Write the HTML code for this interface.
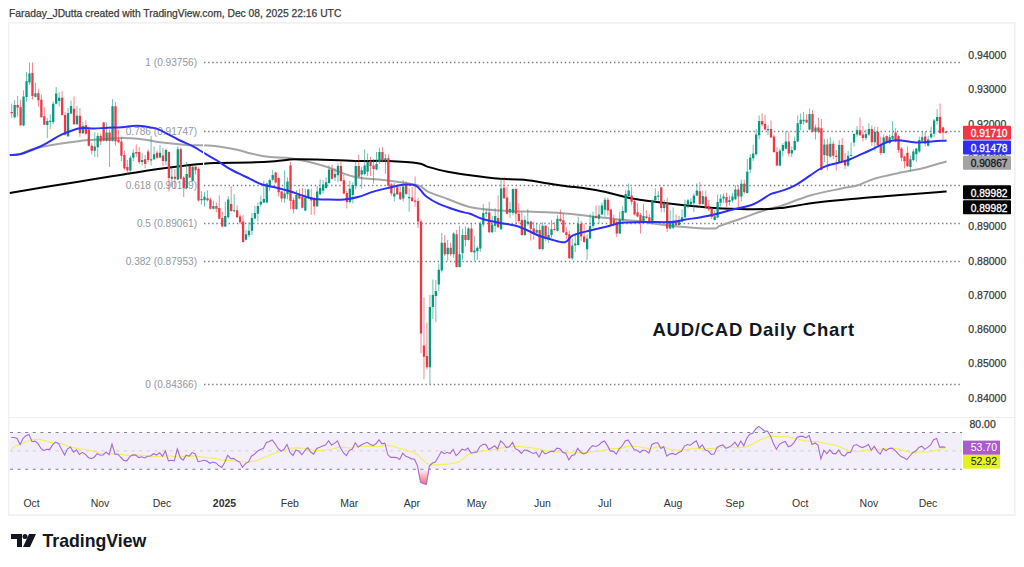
<!DOCTYPE html>
<html><head><meta charset="utf-8"><style>
html,body{margin:0;padding:0;background:#fff;}
body{width:1024px;height:567px;position:relative;overflow:hidden;font-family:"Liberation Sans",sans-serif;}
svg text{font-family:"Liberation Sans",sans-serif;}
.title{position:absolute;left:9px;top:8px;font-size:10.3px;color:#3B3B3B;-webkit-text-stroke:0.25px #3B3B3B;white-space:nowrap;}
</style></head><body>
<div class="title">Faraday_JDutta created with TradingView.com, Dec 08, 2025 22:16 UTC</div>
<svg width="1024" height="567" viewBox="0 0 1024 567" style="position:absolute;left:0;top:0"><rect x="8.8" y="22.9" width="1006" height="492.2" fill="none" stroke="#F0F0F0" stroke-width="1.6"/><line x1="9" y1="417.5" x2="1015" y2="417.5" stroke="#EEEEEE" stroke-width="1.2"/><line x1="204" y1="62.5" x2="962" y2="62.5" stroke="#787B86" stroke-width="1.3" stroke-dasharray="1.4 2.7"/><line x1="204" y1="131.5" x2="962" y2="131.5" stroke="#787B86" stroke-width="1.3" stroke-dasharray="1.4 2.7"/><line x1="204" y1="185.5" x2="962" y2="185.5" stroke="#787B86" stroke-width="1.3" stroke-dasharray="1.4 2.7"/><line x1="204" y1="223.5" x2="962" y2="223.5" stroke="#787B86" stroke-width="1.3" stroke-dasharray="1.4 2.7"/><line x1="204" y1="261.5" x2="962" y2="261.5" stroke="#787B86" stroke-width="1.3" stroke-dasharray="1.4 2.7"/><line x1="204" y1="384.5" x2="962" y2="384.5" stroke="#787B86" stroke-width="1.3" stroke-dasharray="1.4 2.7"/><text x="197" y="66.1" text-anchor="end" font-size="10.1" fill="#9598A1">1 (0.93756)</text><text x="197" y="135.0" text-anchor="end" font-size="10.1" fill="#9598A1">0.786 (0.91747)</text><text x="197" y="189.0" text-anchor="end" font-size="10.1" fill="#9598A1">0.618 (0.90169)</text><text x="197" y="227.0" text-anchor="end" font-size="10.1" fill="#9598A1">0.5 (0.89061)</text><text x="197" y="265.0" text-anchor="end" font-size="10.1" fill="#9598A1">0.382 (0.87953)</text><text x="197" y="387.9" text-anchor="end" font-size="10.1" fill="#9598A1">0 (0.84366)</text><path d="M9.8 155.0C11.5 154.8 16.1 155.0 20.0 154.0C23.9 153.0 26.7 150.7 33.0 149.0C39.3 147.3 50.2 145.2 58.0 143.9C65.8 142.6 72.8 141.7 80.0 140.9C87.2 140.2 94.0 139.9 101.0 139.4C108.0 138.9 114.9 138.0 122.0 138.0C129.1 138.0 137.2 138.7 143.5 139.4C149.8 140.1 152.9 141.4 160.0 142.3C167.1 143.2 176.9 144.3 186.0 144.9C195.1 145.5 205.7 145.1 214.4 145.9C223.1 146.7 232.1 148.7 238.0 149.9C243.9 151.1 244.7 152.1 250.0 153.3C255.3 154.5 263.0 156.1 270.0 157.0C277.0 157.9 283.0 157.0 292.0 158.5C301.0 160.0 313.7 163.0 324.0 166.0C334.3 169.0 343.3 174.3 354.0 176.7C364.7 179.1 377.3 179.1 388.0 180.5C398.7 181.9 411.3 183.6 418.0 185.4C424.7 187.2 423.1 189.3 428.0 191.6C432.9 193.9 440.3 196.3 447.6 199.0C454.9 201.7 463.3 205.7 472.0 207.6C480.7 209.5 485.3 209.6 500.0 210.5C514.7 211.4 543.8 211.9 560.0 213.0C576.2 214.1 584.7 215.8 597.0 217.1C609.3 218.4 621.7 219.4 634.0 220.8C646.3 222.2 658.0 224.4 671.0 225.7C684.0 227.0 703.8 228.6 712.0 228.6C720.2 228.6 715.3 227.3 720.0 225.7C724.7 224.1 732.0 221.8 740.0 219.0C748.0 216.2 761.0 211.3 767.7 209.2C774.4 207.1 772.8 208.6 780.0 206.3C787.2 204.0 800.6 198.3 811.0 195.3C821.4 192.3 834.7 190.0 842.5 188.3C850.3 186.6 852.8 186.8 858.0 185.2C863.2 183.6 867.2 180.9 873.8 178.9C880.2 176.9 889.2 175.1 897.0 173.4C904.8 171.7 913.4 170.4 920.6 168.8C927.8 167.1 935.7 164.5 940.0 163.3C944.3 162.1 945.5 161.8 946.6 161.5" fill="none" stroke="#A5A5A5" stroke-width="2" stroke-linejoin="round"/><path d="M9.8 192.9C15.7 191.9 33.3 188.9 45.0 187.0C56.7 185.1 68.3 183.4 80.0 181.5C91.7 179.6 102.0 177.9 115.0 175.8C128.0 173.7 146.2 170.6 158.0 168.9C169.8 167.2 176.6 166.4 186.0 165.4C195.4 164.4 203.7 163.4 214.4 162.9C225.1 162.4 239.9 162.8 250.0 162.5C260.1 162.2 267.6 161.7 275.0 161.2C282.4 160.7 287.5 159.6 294.5 159.3C301.5 159.0 306.9 159.2 317.0 159.5C327.1 159.8 343.2 160.7 355.0 160.9C366.8 161.2 377.5 160.6 388.0 161.0C398.5 161.4 411.3 162.2 418.0 163.2C424.7 164.2 423.1 165.5 428.0 166.9C432.9 168.3 440.3 170.4 447.6 171.8C454.9 173.2 463.3 174.4 472.0 175.6C480.7 176.8 491.3 178.1 500.0 178.8C508.7 179.5 513.8 178.7 524.0 179.8C534.2 180.9 548.8 183.7 561.0 185.4C573.2 187.1 584.8 188.0 597.0 190.2C609.2 192.4 621.7 196.6 634.0 198.8C646.3 201.1 658.8 202.3 671.0 203.7C683.2 205.1 696.0 206.5 707.5 207.4C719.0 208.3 730.0 208.7 740.0 209.0C750.0 209.3 761.0 209.2 767.7 209.0C774.4 208.8 771.5 209.2 780.0 208.1C788.5 207.0 806.0 203.9 819.0 202.3C832.0 200.7 845.0 199.6 858.0 198.4C871.0 197.2 883.3 196.4 897.0 195.3C910.7 194.2 931.7 192.5 940.0 191.9C948.3 191.3 945.5 191.6 946.6 191.5" fill="none" stroke="#000" stroke-width="2" stroke-linejoin="round"/><path d="M14.67 100.2V118.6M23.56 90.3V126.3M26.53 72.0V101.6M29.50 62.5V84.7M35.43 82.6V97.4M47.29 117.8V138.3M50.26 114.3V129.1M53.22 101.6V124.2M56.19 87.1V104.4M59.16 92.2V106.6M68.05 108.0V136.9M71.02 100.6V114.3M76.95 105.9V124.9M82.88 122.1V134.1M94.75 132.4V157.1M97.71 133.1V157.1M106.61 122.5V141.6M112.54 99.2V141.6M130.34 155.7V171.9M133.31 149.3V161.3M142.20 152.8V165.5M151.10 135.9V165.5M154.07 146.5V159.9M160.00 144.9V158.3M165.93 148.5V165.4M171.86 167.5V186.6M177.80 146.3V180.2M186.69 161.9V189.4M192.63 166.1V181.6M201.52 191.2V204.6M204.49 191.9V206.7M213.39 201.0V209.5M225.25 201.7V227.1M228.22 196.1V218.7M234.15 194.0V212.3M246.01 230.0V240.5M248.98 222.2V237.0M251.95 213.0V234.9M254.91 206.0V219.4M257.88 202.5V221.5M260.84 195.4V206.7M263.81 180.6V203.2M266.78 182.7V203.2M269.74 178.5V191.2M272.71 170.0V181.3M284.57 170.3V202.8M287.54 177.4V199.3M296.44 190.1V209.8M305.33 188.7V211.3M308.30 188.7V199.3M317.20 185.9V207.0M320.16 179.5V195.0M323.13 180.2V193.6M326.10 177.4V188.7M329.06 165.4V183.7M334.99 168.2V180.9M337.96 163.3V182.3M349.82 180.9V203.5M352.79 182.3V203.5M355.76 160.5V189.4M361.69 166.8V188.7M364.65 149.2V175.3M367.62 153.4V176.0M376.52 152.0V170.3M379.48 147.8V164.0M385.42 154.1V173.9M394.31 183.0V201.4M403.21 180.2V201.4M409.14 188.4V211.7M429.91 295.0V384.2M432.87 279.6V319.0M435.84 280.0V322.0M438.80 263.4V291.0M441.77 232.8V272.6M447.70 239.9V260.6M453.63 232.1V257.8M459.57 225.8V267.5M462.53 228.6V260.0M468.46 227.2V240.6M474.40 235.7V260.6M477.36 246.3V259.9M480.33 221.6V251.9M483.29 204.0V227.2M486.26 208.9V217.3M492.19 215.9V232.8M495.16 208.2V232.1M501.09 178.5V230.0M509.99 201.8V218.0M512.95 188.4V215.2M524.82 215.9V235.7M527.78 208.9V225.8M536.68 223.0V234.3M542.61 222.3V250.5M548.55 227.2V242.7M551.51 220.1V237.8M557.44 215.2V231.4M572.27 238.6V260.0M575.24 232.9V252.0M578.21 216.7V245.6M587.10 234.3V260.0M590.07 213.9V239.3M593.04 211.7V228.0M598.97 205.4V223.7M601.93 202.6V215.3M604.90 197.6V216.7M619.73 211.7V234.3M622.70 206.1V221.6M625.66 189.9V213.2M628.63 183.5V196.9M643.46 203.9V222.2M652.36 199.6V224.3M655.32 188.3V203.2M658.29 191.2V200.3M664.22 199.6V212.3M670.15 210.2V229.3M673.12 207.4V229.3M679.05 215.9V225.7M682.02 209.5V222.2M684.98 199.6V218.0M687.95 198.9V208.1M690.91 198.2V205.3M693.88 193.3V212.3M696.85 183.4V196.1M702.78 190.5V204.6M714.64 210.5V220.4M717.61 194.3V218.3M720.57 194.3V206.3M723.54 193.6V202.8M729.47 195.7V205.6M732.44 192.9V202.8M735.40 185.1V200.0M741.34 179.5V201.4M747.27 159.0V193.6M750.23 154.1V173.2M753.20 144.9V161.2M756.17 128.9V155.7M759.13 115.5V139.4M768.03 125.3V135.2M779.89 148.6V166.3M782.86 143.0V156.4M785.83 131.0V149.4M791.76 146.6V157.1M794.72 136.7V150.8M797.69 115.5V142.3M800.66 113.4V130.3M803.62 112.0V124.7M809.55 108.5V130.3M815.49 124.7V139.5M824.38 138.8V162.1M830.32 137.4V157.8M839.21 140.2V162.8M848.11 150.8V167.0M851.08 142.3V156.4M854.04 133.2V146.6M857.01 126.1V136.7M865.91 129.6V140.2M868.87 123.3V136.0M874.81 126.8V150.8M883.70 134.6V153.6M889.64 134.5V144.4M892.60 121.1V139.4M910.40 155.7V171.2M913.36 149.3V161.3M916.33 147.9V162.0M919.30 136.6V152.8M922.26 131.0V142.3M928.19 135.9V146.5M931.16 126.7V138.7M934.13 119.0V137.3M937.09 109.1V124.6" stroke="#089981" stroke-width="1" fill="none" opacity="0.6"/><path d="M11.70 103.7V117.8M17.63 96.0V116.4M20.60 99.5V125.6M32.46 62.5V99.5M38.39 88.9V106.6M41.36 94.6V117.8M44.33 107.3V124.9M62.12 91.3V115.7M65.09 112.2V135.5M73.99 96.4V124.9M79.92 108.0V136.9M85.85 120.4V134.5M88.82 127.5V146.5M91.78 143.0V154.3M100.68 133.8V145.1M103.65 121.8V141.6M109.58 129.6V167.0M115.51 102.1V145.8M118.48 129.6V143.0M121.44 136.6V161.3M124.41 150.7V169.8M127.37 159.9V174.0M136.27 144.4V157.1M139.24 147.2V164.1M145.17 155.0V168.4M148.14 149.3V162.0M157.03 150.7V159.2M162.97 147.8V166.1M168.90 151.3V191.5M174.83 168.9V188.7M180.76 147.8V179.5M183.73 176.0V197.1M189.66 165.4V178.1M195.59 165.4V174.6M198.56 167.5V201.4M207.46 190.5V201.7M210.42 197.5V209.5M216.35 202.5V212.3M219.32 195.4V219.4M222.29 211.6V227.1M231.18 186.2V211.6M237.12 205.3V218.0M240.08 214.4V224.3M243.05 215.1V242.7M275.67 171.7V183.7M278.64 177.4V196.4M281.61 190.8V202.1M290.50 161.9V209.1M293.47 197.8V213.4M299.40 188.7V199.3M302.37 188.0V208.4M311.27 188.7V214.8M314.23 197.1V214.8M332.03 164.7V179.5M340.93 161.9V181.6M343.89 174.6V194.3M346.86 190.8V208.4M358.72 154.8V177.4M370.59 156.9V176.0M373.55 159.0V183.7M382.45 147.1V162.6M388.38 154.1V186.6M391.35 183.0V195.7M397.28 185.1V195.0M400.25 186.6V200.0M406.18 181.3V194.8M412.11 187.0V201.8M415.08 176.4V206.7M418.04 197.6V227.9M421.01 219.4V353.2M423.97 297.3V379.3M426.94 322.8V369.4M444.74 235.0V256.0M450.67 242.7V256.3M456.60 230.0V267.5M465.50 226.5V246.3M471.43 223.0V252.6M489.23 201.8V232.8M498.12 195.5V227.9M504.06 177.1V199.0M507.02 187.0V214.5M515.92 187.7V223.7M518.89 203.2V223.7M521.85 211.7V235.7M530.75 220.9V240.6M533.72 221.6V239.9M539.65 224.4V249.8M545.58 225.1V241.3M554.48 222.3V230.7M560.41 209.6V222.3M563.38 213.2V232.9M566.34 227.3V239.3M569.31 230.8V259.0M581.17 220.9V240.7M584.14 223.7V242.8M596.00 205.4V218.8M607.87 197.6V215.3M610.83 208.9V225.9M613.80 214.6V226.6M616.76 220.2V237.1M631.59 187.1V204.7M634.56 199.8V215.3M637.53 203.2V217.3M640.49 213.0V233.5M646.42 210.2V218.7M649.39 214.4V224.3M661.25 186.9V212.3M667.19 197.5V232.1M676.08 214.4V225.7M699.81 182.0V207.4M705.74 190.5V208.1M708.71 200.3V210.9M711.68 207.7V219.0M726.51 192.9V207.0M738.37 185.9V207.7M744.30 179.5V193.6M762.10 113.3V126.7M765.06 114.8V130.3M771.00 120.4V138.0M773.96 134.5V152.8M776.93 147.2V166.3M788.79 131.7V156.4M806.59 114.1V123.3M812.52 109.9V132.5M818.45 117.6V133.2M821.42 119.0V170.5M827.35 138.8V170.5M833.28 140.9V159.3M836.25 150.1V170.5M842.18 138.1V162.1M845.15 152.9V169.1M859.98 117.6V136.0M862.94 126.1V141.6M871.84 125.4V145.9M877.77 126.8V146.6M880.74 136.7V155.0M886.67 135.2V143.7M895.57 128.2V142.3M898.53 135.2V152.8M901.50 147.2V161.3M904.47 155.7V168.4M907.43 146.5V167.0M925.23 131.7V146.5M940.06 103.5V133.8M943.02 126.7V139.4M945.99 131.0V133.4" stroke="#F23645" stroke-width="1" fill="none" opacity="0.6"/><path d="M13.52 104.9h2.3v12.3h-2.3zM22.41 96.4h2.3v29.2h-2.3zM25.38 81.2h2.3v15.8h-2.3zM28.35 73.4h2.3v9.2h-2.3zM34.28 93.2h2.3v3.5h-2.3zM46.14 121.0h2.3v4.0h-2.3zM49.11 120.7h2.3v1.4h-2.3zM52.07 103.7h2.3v18.3h-2.3zM55.04 93.6h2.3v10.2h-2.3zM58.01 97.8h2.3v3.1h-2.3zM66.90 112.9h2.3v23.3h-2.3zM69.87 105.9h2.3v7.5h-2.3zM75.80 115.7h2.3v8.5h-2.3zM81.73 126.0h2.3v7.3h-2.3zM93.60 146.5h2.3v4.2h-2.3zM96.56 135.9h2.3v11.3h-2.3zM105.46 132.4h2.3v8.5h-2.3zM111.39 106.3h2.3v34.6h-2.3zM129.19 157.8h2.3v12.7h-2.3zM132.16 152.8h2.3v4.9h-2.3zM141.05 159.9h2.3v2.1h-2.3zM149.95 159.2h2.3v1.4h-2.3zM152.92 154.3h2.3v4.9h-2.3zM158.85 152.7h2.3v4.9h-2.3zM164.78 149.9h2.3v11.3h-2.3zM170.71 176.7h2.3v2.1h-2.3zM176.65 149.2h2.3v30.3h-2.3zM185.54 173.9h2.3v14.1h-2.3zM191.48 166.8h2.3v14.1h-2.3zM200.37 198.9h2.3v1.4h-2.3zM203.34 196.8h2.3v3.5h-2.3zM212.24 206.0h2.3v2.8h-2.3zM224.10 215.9h2.3v10.6h-2.3zM227.07 199.6h2.3v17.6h-2.3zM233.00 210.2h2.3v1.0h-2.3zM244.86 234.2h2.3v5.6h-2.3zM247.83 230.7h2.3v4.2h-2.3zM250.80 218.0h2.3v12.7h-2.3zM253.76 213.0h2.3v5.6h-2.3zM256.73 206.0h2.3v7.8h-2.3zM259.69 201.7h2.3v2.8h-2.3zM262.66 198.9h2.3v3.5h-2.3zM265.63 183.4h2.3v19.0h-2.3zM268.59 179.9h2.3v5.6h-2.3zM271.56 174.9h2.3v4.9h-2.3zM283.42 193.6h2.3v4.9h-2.3zM286.39 181.6h2.3v12.7h-2.3zM295.29 195.0h2.3v14.1h-2.3zM304.18 197.8h2.3v12.7h-2.3zM307.15 189.4h2.3v8.5h-2.3zM316.05 191.5h2.3v14.8h-2.3zM319.01 188.0h2.3v6.3h-2.3zM321.98 184.4h2.3v6.3h-2.3zM324.95 182.3h2.3v5.6h-2.3zM327.91 169.6h2.3v13.4h-2.3zM333.84 173.9h2.3v3.5h-2.3zM336.81 166.1h2.3v9.2h-2.3zM348.67 188.7h2.3v13.4h-2.3zM351.64 185.1h2.3v9.9h-2.3zM354.61 166.1h2.3v19.8h-2.3zM360.54 170.3h2.3v4.2h-2.3zM363.50 165.4h2.3v8.5h-2.3zM366.47 161.9h2.3v9.9h-2.3zM375.37 164.0h2.3v5.6h-2.3zM378.33 152.0h2.3v9.2h-2.3zM384.27 158.3h2.3v2.1h-2.3zM393.16 193.6h2.3v2.8h-2.3zM402.06 186.6h2.3v12.0h-2.3zM407.99 196.9h2.3v1.4h-2.3zM428.76 307.0h2.3v60.3h-2.3zM431.72 295.0h2.3v12.0h-2.3zM434.69 291.0h2.3v5.0h-2.3zM437.65 269.8h2.3v14.8h-2.3zM440.62 242.7h2.3v27.8h-2.3zM446.55 247.7h2.3v6.5h-2.3zM452.48 233.6h2.3v20.6h-2.3zM458.42 254.2h2.3v12.8h-2.3zM461.38 235.0h2.3v18.3h-2.3zM467.31 228.6h2.3v11.4h-2.3zM473.25 250.5h2.3v2.0h-2.3zM476.21 247.7h2.3v3.5h-2.3zM479.18 223.7h2.3v24.7h-2.3zM482.14 213.0h2.3v11.4h-2.3zM485.11 212.4h2.3v1.4h-2.3zM491.04 224.4h2.3v7.8h-2.3zM494.01 215.9h2.3v9.9h-2.3zM499.94 188.4h2.3v40.9h-2.3zM508.84 208.9h2.3v3.5h-2.3zM511.80 189.1h2.3v24.0h-2.3zM523.67 220.1h2.3v14.8h-2.3zM526.63 221.6h2.3v2.1h-2.3zM535.53 230.0h2.3v2.8h-2.3zM541.46 225.8h2.3v23.3h-2.3zM547.40 235.0h2.3v4.2h-2.3zM550.36 229.3h2.3v5.6h-2.3zM556.29 218.7h2.3v12.0h-2.3zM571.12 245.6h2.3v12.7h-2.3zM574.09 243.5h2.3v2.1h-2.3zM577.06 223.7h2.3v21.2h-2.3zM585.95 238.6h2.3v10.6h-2.3zM588.92 225.9h2.3v12.7h-2.3zM591.89 216.0h2.3v9.9h-2.3zM597.82 214.6h2.3v4.2h-2.3zM600.78 205.4h2.3v9.2h-2.3zM603.75 199.8h2.3v9.9h-2.3zM618.58 219.5h2.3v14.1h-2.3zM621.55 211.0h2.3v9.2h-2.3zM624.51 194.1h2.3v18.3h-2.3zM627.48 190.6h2.3v5.6h-2.3zM642.31 215.9h2.3v5.6h-2.3zM651.21 200.3h2.3v23.3h-2.3zM654.17 196.1h2.3v4.2h-2.3zM657.14 195.4h2.3v1.4h-2.3zM663.07 203.2h2.3v4.9h-2.3zM669.00 222.9h2.3v5.6h-2.3zM671.97 221.5h2.3v6.3h-2.3zM677.90 220.1h2.3v4.9h-2.3zM680.87 217.3h2.3v4.2h-2.3zM683.83 204.6h2.3v12.7h-2.3zM686.80 200.3h2.3v4.2h-2.3zM689.76 201.7h2.3v2.8h-2.3zM692.73 195.4h2.3v7.8h-2.3zM695.70 190.5h2.3v4.9h-2.3zM701.63 196.1h2.3v7.8h-2.3zM713.49 216.2h2.3v3.8h-2.3zM716.46 202.1h2.3v15.5h-2.3zM719.42 198.6h2.3v4.2h-2.3zM722.39 196.4h2.3v2.1h-2.3zM728.32 200.0h2.3v2.1h-2.3zM731.29 196.4h2.3v4.2h-2.3zM734.25 189.4h2.3v9.9h-2.3zM740.19 183.7h2.3v12.7h-2.3zM746.12 171.7h2.3v21.2h-2.3zM749.08 157.6h2.3v12.0h-2.3zM752.05 153.4h2.3v4.9h-2.3zM755.02 134.5h2.3v19.8h-2.3zM757.98 121.1h2.3v14.1h-2.3zM766.88 128.9h2.3v1.4h-2.3zM778.74 150.7h2.3v14.8h-2.3zM781.71 145.1h2.3v5.6h-2.3zM784.68 141.6h2.3v7.1h-2.3zM790.61 150.1h2.3v3.5h-2.3zM793.57 140.9h2.3v9.2h-2.3zM796.54 123.3h2.3v18.3h-2.3zM799.51 119.8h2.3v4.2h-2.3zM802.47 119.8h2.3v1.4h-2.3zM808.40 114.1h2.3v15.5h-2.3zM814.34 127.5h2.3v4.2h-2.3zM823.23 144.4h2.3v10.6h-2.3zM829.17 143.7h2.3v12.7h-2.3zM838.06 145.1h2.3v16.9h-2.3zM846.96 155.7h2.3v9.9h-2.3zM849.93 155.0h2.3v1.0h-2.3zM852.89 133.9h2.3v8.5h-2.3zM855.86 130.3h2.3v4.2h-2.3zM864.76 133.9h2.3v4.2h-2.3zM867.72 128.9h2.3v5.6h-2.3zM873.66 131.7h2.3v10.6h-2.3zM882.55 137.4h2.3v15.5h-2.3zM888.49 137.3h2.3v5.6h-2.3zM891.45 135.9h2.3v2.8h-2.3zM909.25 159.2h2.3v7.8h-2.3zM912.21 151.4h2.3v8.5h-2.3zM915.18 148.6h2.3v5.6h-2.3zM918.15 140.1h2.3v11.3h-2.3zM921.11 137.3h2.3v3.5h-2.3zM927.04 139.4h2.3v6.3h-2.3zM930.01 133.8h2.3v3.5h-2.3zM932.98 120.4h2.3v13.4h-2.3zM935.94 116.9h2.3v4.2h-2.3z" fill="#089981" /><path d="M10.55 111.9h2.3v1.4h-2.3zM16.48 104.9h2.3v2.8h-2.3zM19.45 107.3h2.3v17.9h-2.3zM31.31 73.0h2.3v23.0h-2.3zM37.24 93.2h2.3v7.1h-2.3zM40.21 99.8h2.3v17.4h-2.3zM43.18 116.2h2.3v8.5h-2.3zM60.97 97.8h2.3v17.2h-2.3zM63.94 115.0h2.3v19.8h-2.3zM72.84 108.7h2.3v15.5h-2.3zM78.77 115.7h2.3v17.6h-2.3zM84.70 125.3h2.3v8.5h-2.3zM87.67 129.6h2.3v16.2h-2.3zM90.63 145.8h2.3v4.9h-2.3zM99.53 135.9h2.3v5.6h-2.3zM102.50 122.5h2.3v18.3h-2.3zM108.43 132.4h2.3v8.5h-2.3zM114.36 106.3h2.3v35.3h-2.3zM117.33 139.4h2.3v2.8h-2.3zM120.29 141.6h2.3v14.1h-2.3zM123.26 155.0h2.3v13.4h-2.3zM126.22 167.0h2.3v3.5h-2.3zM135.12 152.1h2.3v1.4h-2.3zM138.09 152.1h2.3v9.9h-2.3zM144.02 159.2h2.3v4.9h-2.3zM146.99 151.4h2.3v8.5h-2.3zM155.88 152.8h2.3v4.9h-2.3zM161.82 155.5h2.3v5.6h-2.3zM167.75 152.0h2.3v26.1h-2.3zM173.68 176.7h2.3v2.1h-2.3zM179.61 149.2h2.3v29.6h-2.3zM182.58 177.4h2.3v10.6h-2.3zM188.51 166.1h2.3v11.3h-2.3zM194.44 166.8h2.3v3.5h-2.3zM197.41 168.9h2.3v31.7h-2.3zM206.31 198.2h2.3v2.1h-2.3zM209.27 199.6h2.3v9.2h-2.3zM215.20 206.0h2.3v2.8h-2.3zM218.17 208.1h2.3v10.6h-2.3zM221.14 218.0h2.3v8.5h-2.3zM230.03 203.9h2.3v7.1h-2.3zM235.97 210.2h2.3v7.1h-2.3zM238.93 216.6h2.3v5.6h-2.3zM241.90 221.5h2.3v20.5h-2.3zM274.52 172.5h2.3v9.9h-2.3zM277.49 178.1h2.3v14.1h-2.3zM280.46 191.5h2.3v7.1h-2.3zM289.35 165.4h2.3v35.3h-2.3zM292.32 200.0h2.3v9.2h-2.3zM298.25 194.3h2.3v4.2h-2.3zM301.22 197.1h2.3v10.6h-2.3zM310.12 197.1h2.3v3.5h-2.3zM313.08 198.6h2.3v7.8h-2.3zM330.88 169.6h2.3v9.2h-2.3zM339.78 166.1h2.3v14.8h-2.3zM342.74 180.2h2.3v13.4h-2.3zM345.71 192.9h2.3v9.2h-2.3zM357.57 166.1h2.3v10.6h-2.3zM369.44 161.2h2.3v4.9h-2.3zM372.40 165.4h2.3v3.5h-2.3zM381.30 152.0h2.3v8.5h-2.3zM387.23 158.3h2.3v27.5h-2.3zM390.20 184.4h2.3v9.2h-2.3zM396.13 187.3h2.3v7.1h-2.3zM399.10 192.2h2.3v7.1h-2.3zM405.03 184.9h2.3v9.2h-2.3zM410.96 197.6h2.3v3.5h-2.3zM413.93 200.4h2.3v1.4h-2.3zM416.89 201.1h2.3v20.5h-2.3zM419.86 221.6h2.3v111.8h-2.3zM422.82 345.4h2.3v11.3h-2.3zM425.79 356.0h2.3v11.3h-2.3zM443.59 242.7h2.3v11.5h-2.3zM449.52 247.7h2.3v6.5h-2.3zM455.45 234.3h2.3v32.7h-2.3zM464.35 235.0h2.3v5.0h-2.3zM470.28 228.6h2.3v23.3h-2.3zM488.08 212.4h2.3v19.8h-2.3zM496.97 218.0h2.3v9.2h-2.3zM502.91 187.7h2.3v10.6h-2.3zM505.87 197.6h2.3v16.2h-2.3zM514.77 189.1h2.3v24.7h-2.3zM517.74 213.8h2.3v7.1h-2.3zM520.70 220.1h2.3v14.8h-2.3zM529.60 221.6h2.3v7.1h-2.3zM532.57 228.6h2.3v4.9h-2.3zM538.50 230.0h2.3v19.0h-2.3zM544.43 225.8h2.3v12.7h-2.3zM553.33 229.0h2.3v1.0h-2.3zM559.26 218.8h2.3v2.1h-2.3zM562.23 220.2h2.3v12.0h-2.3zM565.19 232.2h2.3v2.8h-2.3zM568.16 234.3h2.3v24.0h-2.3zM580.02 223.7h2.3v12.7h-2.3zM582.99 236.4h2.3v5.6h-2.3zM594.85 216.0h2.3v2.1h-2.3zM606.72 199.8h2.3v10.6h-2.3zM609.68 209.6h2.3v15.5h-2.3zM612.65 219.5h2.3v5.6h-2.3zM615.61 222.3h2.3v11.3h-2.3zM630.44 195.5h2.3v6.3h-2.3zM633.41 201.2h2.3v13.4h-2.3zM636.38 212.3h2.3v4.2h-2.3zM639.34 215.1h2.3v7.1h-2.3zM645.27 216.6h2.3v1.4h-2.3zM648.24 217.3h2.3v6.3h-2.3zM660.10 187.6h2.3v20.5h-2.3zM666.04 203.2h2.3v25.4h-2.3zM674.93 221.5h2.3v3.5h-2.3zM698.66 191.2h2.3v12.7h-2.3zM704.59 196.8h2.3v10.6h-2.3zM707.56 206.0h2.3v3.5h-2.3zM710.53 208.4h2.3v8.5h-2.3zM725.36 197.1h2.3v5.6h-2.3zM737.22 189.4h2.3v7.1h-2.3zM743.15 183.7h2.3v8.5h-2.3zM760.95 121.1h2.3v3.5h-2.3zM763.91 123.9h2.3v5.6h-2.3zM769.85 128.9h2.3v8.5h-2.3zM772.81 136.6h2.3v15.5h-2.3zM775.78 152.1h2.3v13.4h-2.3zM787.64 141.6h2.3v12.0h-2.3zM805.44 119.8h2.3v2.8h-2.3zM811.37 114.1h2.3v17.6h-2.3zM817.30 127.5h2.3v4.2h-2.3zM820.27 128.2h2.3v41.6h-2.3zM826.20 144.4h2.3v11.3h-2.3zM832.13 143.7h2.3v12.0h-2.3zM835.10 155.7h2.3v1.4h-2.3zM841.03 145.1h2.3v16.2h-2.3zM844.00 160.0h2.3v5.6h-2.3zM858.83 130.3h2.3v4.9h-2.3zM861.79 134.6h2.3v3.5h-2.3zM870.69 128.9h2.3v13.4h-2.3zM876.62 131.7h2.3v13.4h-2.3zM879.59 145.1h2.3v7.8h-2.3zM885.52 135.9h2.3v7.1h-2.3zM894.42 132.4h2.3v9.2h-2.3zM897.38 135.9h2.3v14.1h-2.3zM900.35 148.6h2.3v9.2h-2.3zM903.32 156.4h2.3v4.9h-2.3zM906.28 152.8h2.3v13.4h-2.3zM924.08 136.6h2.3v7.1h-2.3zM938.91 116.9h2.3v16.2h-2.3zM941.87 127.5h2.3v4.9h-2.3zM944.84 131.4h2.3v1.4h-2.3z" fill="#F23645" /><path d="M9.8 155.1C11.7 154.9 16.4 155.2 20.9 154.0C25.4 152.8 32.3 149.9 36.7 148.0C41.1 146.1 43.1 145.1 47.3 142.8C51.5 140.5 56.5 136.8 62.0 134.4C67.5 132.0 74.7 129.2 80.0 128.2C85.3 127.2 89.3 128.7 94.0 128.6C98.7 128.5 103.3 127.9 108.0 127.7C112.7 127.5 117.3 127.5 122.0 127.2C126.7 126.9 131.2 125.8 136.0 125.8C140.8 125.8 146.7 126.8 150.5 127.4C154.3 128.0 154.2 127.5 159.0 129.6C163.8 131.7 173.3 137.2 179.0 140.0C184.7 142.8 188.7 144.1 193.0 146.3C197.3 148.5 200.6 151.0 204.6 153.4C208.6 155.8 213.0 158.0 217.0 160.5C221.0 163.0 225.0 166.1 228.5 168.2C232.0 170.3 234.4 171.4 238.0 173.2C241.6 175.0 246.0 176.9 250.0 178.8C254.0 180.7 257.9 183.1 262.0 184.5C266.1 185.9 270.2 186.1 274.7 187.2C279.2 188.3 284.3 189.6 289.0 191.0C293.7 192.4 298.8 194.4 303.0 195.7C307.2 197.0 310.2 198.4 314.0 199.0C317.8 199.6 320.8 199.4 325.8 199.5C330.8 199.6 338.6 199.9 344.0 199.5C349.4 199.1 353.1 198.3 358.0 197.0C362.9 195.7 367.8 193.3 373.5 191.6C379.2 189.9 387.1 188.2 392.0 187.0C396.9 185.8 399.2 185.0 403.0 184.7C406.8 184.4 412.1 184.3 415.0 185.2C417.9 186.1 418.7 188.2 420.5 190.0C422.3 191.8 422.9 193.9 426.0 196.2C429.1 198.5 433.5 201.4 438.9 203.9C444.3 206.4 453.4 209.3 458.6 211.0C463.8 212.7 466.1 212.5 470.0 213.8C473.9 215.1 477.0 217.3 482.0 218.8C487.0 220.3 494.5 221.9 500.0 223.0C505.5 224.1 510.6 224.3 515.0 225.5C519.4 226.7 522.6 228.3 526.6 230.0C530.6 231.7 535.0 234.2 539.0 235.7C543.0 237.2 546.2 238.1 550.5 239.2C554.8 240.3 561.0 242.9 564.7 242.3C568.5 241.7 568.8 237.4 573.0 235.4C577.2 233.4 583.8 232.1 590.0 230.5C596.2 228.9 604.7 227.0 610.0 225.7C615.3 224.4 615.9 223.4 622.0 222.8C628.1 222.2 638.3 222.1 646.5 222.0C654.7 221.9 664.5 222.4 671.0 222.0C677.5 221.6 679.4 220.6 685.5 219.6C691.6 218.6 699.8 217.6 707.5 216.0C715.2 214.4 724.2 211.8 732.0 209.8C739.8 207.8 747.6 206.6 754.0 204.0C760.4 201.4 766.2 196.3 770.5 194.2C774.8 192.1 775.8 192.9 780.0 191.4C784.2 189.9 789.1 188.8 795.6 185.2C802.1 181.5 813.3 172.9 819.0 169.5C824.7 166.1 825.6 166.2 830.0 164.8C834.4 163.4 841.7 162.1 845.6 160.9C849.5 159.7 849.2 159.6 853.4 157.8C857.6 156.0 864.1 152.9 870.6 150.0C877.1 147.1 884.8 141.6 892.6 140.4C900.4 139.2 910.6 142.4 917.5 142.6C924.4 142.8 929.1 141.7 934.0 141.3C938.9 140.9 944.5 140.6 946.6 140.4" fill="none" stroke="#2E2EF5" stroke-width="2" stroke-linejoin="round"/><rect x="203" y="135" width="1.2" height="45" fill="#fff"/><text x="1006.3" y="58.9" text-anchor="end" font-size="10.5" fill="#3A3A3A" stroke="#3A3A3A" stroke-width="0.25">0.94000</text><text x="1006.3" y="93.2" text-anchor="end" font-size="10.5" fill="#3A3A3A" stroke="#3A3A3A" stroke-width="0.25">0.93000</text><text x="1006.3" y="127.5" text-anchor="end" font-size="10.5" fill="#3A3A3A" stroke="#3A3A3A" stroke-width="0.25">0.92000</text><text x="1006.3" y="161.7" text-anchor="end" font-size="10.5" fill="#3A3A3A" stroke="#3A3A3A" stroke-width="0.25">0.91000</text><text x="1006.3" y="196.0" text-anchor="end" font-size="10.5" fill="#3A3A3A" stroke="#3A3A3A" stroke-width="0.25">0.90000</text><text x="1006.3" y="230.3" text-anchor="end" font-size="10.5" fill="#3A3A3A" stroke="#3A3A3A" stroke-width="0.25">0.89000</text><text x="1006.3" y="264.6" text-anchor="end" font-size="10.5" fill="#3A3A3A" stroke="#3A3A3A" stroke-width="0.25">0.88000</text><text x="1006.3" y="298.8" text-anchor="end" font-size="10.5" fill="#3A3A3A" stroke="#3A3A3A" stroke-width="0.25">0.87000</text><text x="1006.3" y="333.1" text-anchor="end" font-size="10.5" fill="#3A3A3A" stroke="#3A3A3A" stroke-width="0.25">0.86000</text><text x="1006.3" y="367.4" text-anchor="end" font-size="10.5" fill="#3A3A3A" stroke="#3A3A3A" stroke-width="0.25">0.85000</text><text x="1006.3" y="401.6" text-anchor="end" font-size="10.5" fill="#3A3A3A" stroke="#3A3A3A" stroke-width="0.25">0.84000</text><rect x="963" y="125.8" width="48" height="14" fill="#F23645" rx="1"/><text x="1007.5" y="137.1" text-anchor="end" font-size="10.2" fill="#fff" stroke="#fff" stroke-width="0.3">0.91710</text><rect x="963" y="140.6" width="48" height="14" fill="#2E2EF5" rx="1"/><text x="1007.5" y="151.9" text-anchor="end" font-size="10.2" fill="#fff" stroke="#fff" stroke-width="0.3">0.91478</text><rect x="963" y="155.8" width="48" height="14" fill="#A3A3A3" rx="1"/><text x="1007.5" y="167.1" text-anchor="end" font-size="10.2" fill="#131722" stroke="#131722" stroke-width="0.3">0.90867</text><rect x="963" y="185.3" width="48" height="14" fill="#000" rx="1"/><text x="1007.5" y="196.6" text-anchor="end" font-size="10.2" fill="#fff" stroke="#fff" stroke-width="0.3">0.89982</text><rect x="963" y="200.2" width="48" height="14" fill="#000" rx="1"/><text x="1007.5" y="211.5" text-anchor="end" font-size="10.2" fill="#fff" stroke="#fff" stroke-width="0.3">0.89982</text><rect x="10" y="432.5" width="952" height="36.7" fill="#F3EFFA"/><line x1="10" y1="432.5" x2="962" y2="432.5" stroke="#80838C" stroke-width="1.1" stroke-dasharray="3 4.6"/><line x1="10" y1="469.2" x2="962" y2="469.2" stroke="#80838C" stroke-width="1.1" stroke-dasharray="3 4.6"/><line x1="10" y1="450.85" x2="962" y2="450.85" stroke="#B2B5BE" stroke-width="1" stroke-dasharray="3 4.6" opacity="0.55"/><defs><linearGradient id="os" x1="0" y1="0" x2="0" y2="1"><stop offset="0" stop-color="#F23645" stop-opacity="0.05"/><stop offset="1" stop-color="#F23645" stop-opacity="0.75"/></linearGradient><linearGradient id="obg" x1="0" y1="1" x2="0" y2="0"><stop offset="0" stop-color="#089981" stop-opacity="0.03"/><stop offset="1" stop-color="#089981" stop-opacity="0.25"/></linearGradient></defs><path d="M11.2 469.2 L14.2 469.2 L17.1 469.2 L20.1 469.2 L23.1 469.2 L26.0 469.2 L29.0 469.2 L32.0 469.2 L34.9 469.2 L37.9 469.2 L40.9 469.2 L43.8 469.2 L46.8 469.2 L49.8 469.2 L52.7 469.2 L55.7 469.2 L58.7 469.2 L61.6 469.2 L64.6 469.2 L67.6 469.2 L70.5 469.2 L73.5 469.2 L76.5 469.2 L79.4 469.2 L82.4 469.2 L85.4 469.2 L88.3 469.2 L91.3 469.2 L94.2 469.2 L97.2 469.2 L100.2 469.2 L103.1 469.2 L106.1 469.2 L109.1 469.2 L112.0 469.2 L115.0 469.2 L118.0 469.2 L120.9 469.2 L123.9 469.2 L126.9 469.2 L129.8 469.2 L132.8 469.2 L135.8 469.2 L138.7 469.2 L141.7 469.2 L144.7 469.2 L147.6 469.2 L150.6 469.2 L153.6 469.2 L156.5 469.2 L159.5 469.2 L162.5 469.2 L165.4 469.2 L168.4 469.2 L171.4 469.2 L174.3 469.2 L177.3 469.2 L180.3 469.2 L183.2 469.2 L186.2 469.2 L189.2 469.2 L192.1 469.2 L195.1 469.2 L198.1 469.2 L201.0 469.2 L204.0 469.2 L207.0 469.2 L209.9 469.2 L212.9 469.2 L215.9 469.2 L218.8 469.2 L221.8 469.2 L224.8 469.2 L227.7 469.2 L230.7 469.2 L233.7 469.2 L236.6 469.2 L239.6 469.2 L242.5 469.2 L245.5 469.2 L248.5 469.2 L251.4 469.2 L254.4 469.2 L257.4 469.2 L260.3 469.2 L263.3 469.2 L266.3 469.2 L269.2 469.2 L272.2 469.2 L275.2 469.2 L278.1 469.2 L281.1 469.2 L284.1 469.2 L287.0 469.2 L290.0 469.2 L293.0 469.2 L295.9 469.2 L298.9 469.2 L301.9 469.2 L304.8 469.2 L307.8 469.2 L310.8 469.2 L313.7 469.2 L316.7 469.2 L319.7 469.2 L322.6 469.2 L325.6 469.2 L328.6 469.2 L331.5 469.2 L334.5 469.2 L337.5 469.2 L340.4 469.2 L343.4 469.2 L346.4 469.2 L349.3 469.2 L352.3 469.2 L355.3 469.2 L358.2 469.2 L361.2 469.2 L364.2 469.2 L367.1 469.2 L370.1 469.2 L373.1 469.2 L376.0 469.2 L379.0 469.2 L381.9 469.2 L384.9 469.2 L387.9 469.2 L390.8 469.2 L393.8 469.2 L396.8 469.2 L399.7 469.2 L402.7 469.2 L405.7 469.2 L408.6 469.2 L411.6 469.2 L414.6 469.2 L417.5 469.2 L420.5 482.2 L423.5 483.7 L426.4 484.3 L429.4 469.2 L432.4 469.2 L435.3 469.2 L438.3 469.2 L441.3 469.2 L444.2 469.2 L447.2 469.2 L450.2 469.2 L453.1 469.2 L456.1 469.2 L459.1 469.2 L462.0 469.2 L465.0 469.2 L468.0 469.2 L470.9 469.2 L473.9 469.2 L476.9 469.2 L479.8 469.2 L482.8 469.2 L485.8 469.2 L488.7 469.2 L491.7 469.2 L494.7 469.2 L497.6 469.2 L500.6 469.2 L503.6 469.2 L506.5 469.2 L509.5 469.2 L512.5 469.2 L515.4 469.2 L518.4 469.2 L521.4 469.2 L524.3 469.2 L527.3 469.2 L530.3 469.2 L533.2 469.2 L536.2 469.2 L539.1 469.2 L542.1 469.2 L545.1 469.2 L548.0 469.2 L551.0 469.2 L554.0 469.2 L556.9 469.2 L559.9 469.2 L562.9 469.2 L565.8 469.2 L568.8 469.2 L571.8 469.2 L574.7 469.2 L577.7 469.2 L580.7 469.2 L583.6 469.2 L586.6 469.2 L589.6 469.2 L592.5 469.2 L595.5 469.2 L598.5 469.2 L601.4 469.2 L604.4 469.2 L607.4 469.2 L610.3 469.2 L613.3 469.2 L616.3 469.2 L619.2 469.2 L622.2 469.2 L625.2 469.2 L628.1 469.2 L631.1 469.2 L634.1 469.2 L637.0 469.2 L640.0 469.2 L643.0 469.2 L645.9 469.2 L648.9 469.2 L651.9 469.2 L654.8 469.2 L657.8 469.2 L660.8 469.2 L663.7 469.2 L666.7 469.2 L669.7 469.2 L672.6 469.2 L675.6 469.2 L678.6 469.2 L681.5 469.2 L684.5 469.2 L687.4 469.2 L690.4 469.2 L693.4 469.2 L696.3 469.2 L699.3 469.2 L702.3 469.2 L705.2 469.2 L708.2 469.2 L711.2 469.2 L714.1 469.2 L717.1 469.2 L720.1 469.2 L723.0 469.2 L726.0 469.2 L729.0 469.2 L731.9 469.2 L734.9 469.2 L737.9 469.2 L740.8 469.2 L743.8 469.2 L746.8 469.2 L749.7 469.2 L752.7 469.2 L755.7 469.2 L758.6 469.2 L761.6 469.2 L764.6 469.2 L767.5 469.2 L770.5 469.2 L773.5 469.2 L776.4 469.2 L779.4 469.2 L782.4 469.2 L785.3 469.2 L788.3 469.2 L791.3 469.2 L794.2 469.2 L797.2 469.2 L800.2 469.2 L803.1 469.2 L806.1 469.2 L809.1 469.2 L812.0 469.2 L815.0 469.2 L818.0 469.2 L820.9 469.2 L823.9 469.2 L826.9 469.2 L829.8 469.2 L832.8 469.2 L835.7 469.2 L838.7 469.2 L841.7 469.2 L844.6 469.2 L847.6 469.2 L850.6 469.2 L853.5 469.2 L856.5 469.2 L859.5 469.2 L862.4 469.2 L865.4 469.2 L868.4 469.2 L871.3 469.2 L874.3 469.2 L877.3 469.2 L880.2 469.2 L883.2 469.2 L886.2 469.2 L889.1 469.2 L892.1 469.2 L895.1 469.2 L898.0 469.2 L901.0 469.2 L904.0 469.2 L906.9 469.2 L909.9 469.2 L912.9 469.2 L915.8 469.2 L918.8 469.2 L921.8 469.2 L924.7 469.2 L927.7 469.2 L930.7 469.2 L933.6 469.2 L936.6 469.2 L939.6 469.2 L942.5 469.2 L945.5 469.2 L945.5 469.2 L11.2 469.2Z" fill="url(#os)"/><path d="M11.2 432.5 L14.2 432.5 L17.1 432.5 L20.1 432.5 L23.1 432.5 L26.0 432.5 L29.0 432.5 L32.0 432.5 L34.9 432.5 L37.9 432.5 L40.9 432.5 L43.8 432.5 L46.8 432.5 L49.8 432.5 L52.7 432.5 L55.7 432.5 L58.7 432.5 L61.6 432.5 L64.6 432.5 L67.6 432.5 L70.5 432.5 L73.5 432.5 L76.5 432.5 L79.4 432.5 L82.4 432.5 L85.4 432.5 L88.3 432.5 L91.3 432.5 L94.2 432.5 L97.2 432.5 L100.2 432.5 L103.1 432.5 L106.1 432.5 L109.1 432.5 L112.0 432.5 L115.0 432.5 L118.0 432.5 L120.9 432.5 L123.9 432.5 L126.9 432.5 L129.8 432.5 L132.8 432.5 L135.8 432.5 L138.7 432.5 L141.7 432.5 L144.7 432.5 L147.6 432.5 L150.6 432.5 L153.6 432.5 L156.5 432.5 L159.5 432.5 L162.5 432.5 L165.4 432.5 L168.4 432.5 L171.4 432.5 L174.3 432.5 L177.3 432.5 L180.3 432.5 L183.2 432.5 L186.2 432.5 L189.2 432.5 L192.1 432.5 L195.1 432.5 L198.1 432.5 L201.0 432.5 L204.0 432.5 L207.0 432.5 L209.9 432.5 L212.9 432.5 L215.9 432.5 L218.8 432.5 L221.8 432.5 L224.8 432.5 L227.7 432.5 L230.7 432.5 L233.7 432.5 L236.6 432.5 L239.6 432.5 L242.5 432.5 L245.5 432.5 L248.5 432.5 L251.4 432.5 L254.4 432.5 L257.4 432.5 L260.3 432.5 L263.3 432.5 L266.3 432.5 L269.2 432.5 L272.2 432.5 L275.2 432.5 L278.1 432.5 L281.1 432.5 L284.1 432.5 L287.0 432.5 L290.0 432.5 L293.0 432.5 L295.9 432.5 L298.9 432.5 L301.9 432.5 L304.8 432.5 L307.8 432.5 L310.8 432.5 L313.7 432.5 L316.7 432.5 L319.7 432.5 L322.6 432.5 L325.6 432.5 L328.6 432.5 L331.5 432.5 L334.5 432.5 L337.5 432.5 L340.4 432.5 L343.4 432.5 L346.4 432.5 L349.3 432.5 L352.3 432.5 L355.3 432.5 L358.2 432.5 L361.2 432.5 L364.2 432.5 L367.1 432.5 L370.1 432.5 L373.1 432.5 L376.0 432.5 L379.0 432.5 L381.9 432.5 L384.9 432.5 L387.9 432.5 L390.8 432.5 L393.8 432.5 L396.8 432.5 L399.7 432.5 L402.7 432.5 L405.7 432.5 L408.6 432.5 L411.6 432.5 L414.6 432.5 L417.5 432.5 L420.5 432.5 L423.5 432.5 L426.4 432.5 L429.4 432.5 L432.4 432.5 L435.3 432.5 L438.3 432.5 L441.3 432.5 L444.2 432.5 L447.2 432.5 L450.2 432.5 L453.1 432.5 L456.1 432.5 L459.1 432.5 L462.0 432.5 L465.0 432.5 L468.0 432.5 L470.9 432.5 L473.9 432.5 L476.9 432.5 L479.8 432.5 L482.8 432.5 L485.8 432.5 L488.7 432.5 L491.7 432.5 L494.7 432.5 L497.6 432.5 L500.6 432.5 L503.6 432.5 L506.5 432.5 L509.5 432.5 L512.5 432.5 L515.4 432.5 L518.4 432.5 L521.4 432.5 L524.3 432.5 L527.3 432.5 L530.3 432.5 L533.2 432.5 L536.2 432.5 L539.1 432.5 L542.1 432.5 L545.1 432.5 L548.0 432.5 L551.0 432.5 L554.0 432.5 L556.9 432.5 L559.9 432.5 L562.9 432.5 L565.8 432.5 L568.8 432.5 L571.8 432.5 L574.7 432.5 L577.7 432.5 L580.7 432.5 L583.6 432.5 L586.6 432.5 L589.6 432.5 L592.5 432.5 L595.5 432.5 L598.5 432.5 L601.4 432.5 L604.4 432.5 L607.4 432.5 L610.3 432.5 L613.3 432.5 L616.3 432.5 L619.2 432.5 L622.2 432.5 L625.2 432.5 L628.1 432.5 L631.1 432.5 L634.1 432.5 L637.0 432.5 L640.0 432.5 L643.0 432.5 L645.9 432.5 L648.9 432.5 L651.9 432.5 L654.8 432.5 L657.8 432.5 L660.8 432.5 L663.7 432.5 L666.7 432.5 L669.7 432.5 L672.6 432.5 L675.6 432.5 L678.6 432.5 L681.5 432.5 L684.5 432.5 L687.4 432.5 L690.4 432.5 L693.4 432.5 L696.3 432.5 L699.3 432.5 L702.3 432.5 L705.2 432.5 L708.2 432.5 L711.2 432.5 L714.1 432.5 L717.1 432.5 L720.1 432.5 L723.0 432.5 L726.0 432.5 L729.0 432.5 L731.9 432.5 L734.9 432.5 L737.9 432.5 L740.8 432.5 L743.8 432.5 L746.8 432.5 L749.7 432.5 L752.7 432.5 L755.7 428.9 L758.6 426.4 L761.6 428.4 L764.6 431.2 L767.5 431.1 L770.5 432.5 L773.5 432.5 L776.4 432.5 L779.4 432.5 L782.4 432.5 L785.3 432.5 L788.3 432.5 L791.3 432.5 L794.2 432.5 L797.2 432.5 L800.2 432.5 L803.1 432.5 L806.1 432.5 L809.1 432.5 L812.0 432.5 L815.0 432.5 L818.0 432.5 L820.9 432.5 L823.9 432.5 L826.9 432.5 L829.8 432.5 L832.8 432.5 L835.7 432.5 L838.7 432.5 L841.7 432.5 L844.6 432.5 L847.6 432.5 L850.6 432.5 L853.5 432.5 L856.5 432.5 L859.5 432.5 L862.4 432.5 L865.4 432.5 L868.4 432.5 L871.3 432.5 L874.3 432.5 L877.3 432.5 L880.2 432.5 L883.2 432.5 L886.2 432.5 L889.1 432.5 L892.1 432.5 L895.1 432.5 L898.0 432.5 L901.0 432.5 L904.0 432.5 L906.9 432.5 L909.9 432.5 L912.9 432.5 L915.8 432.5 L918.8 432.5 L921.8 432.5 L924.7 432.5 L927.7 432.5 L930.7 432.5 L933.6 432.5 L936.6 432.5 L939.6 432.5 L942.5 432.5 L945.5 432.5 L945.5 432.5 L11.2 432.5Z" fill="url(#obg)"/><path d="M11.2 448.8 L14.2 447.0 L17.1 445.4 L20.1 444.4 L23.1 443.1 L26.0 441.8 L29.0 440.5 L32.0 439.9 L34.9 439.5 L37.9 439.4 L40.9 439.7 L43.8 440.4 L46.8 441.2 L49.8 442.2 L52.7 442.7 L55.7 443.0 L58.7 443.4 L61.6 443.7 L64.6 444.9 L67.6 445.9 L70.5 446.8 L73.5 447.5 L76.5 448.1 L79.4 448.9 L82.4 449.2 L85.4 449.5 L88.3 450.1 L91.3 450.7 L94.2 451.6 L97.2 452.4 L100.2 453.3 L103.1 453.7 L106.1 453.4 L109.1 453.9 L112.0 453.6 L115.0 453.8 L118.0 454.1 L120.9 454.3 L123.9 454.9 L126.9 455.3 L129.8 455.3 L132.8 455.0 L135.8 454.9 L138.7 455.1 L141.7 455.3 L144.7 455.5 L147.6 455.8 L150.6 455.9 L153.6 456.6 L156.5 456.7 L159.5 456.5 L162.5 456.5 L165.4 455.8 L168.4 455.8 L171.4 456.0 L174.3 456.5 L177.3 456.0 L180.3 456.0 L183.2 456.3 L186.2 456.1 L189.2 456.1 L192.1 455.8 L195.1 455.8 L198.1 456.3 L201.0 456.9 L204.0 457.2 L207.0 457.9 L209.9 458.1 L212.9 458.2 L215.9 458.3 L218.8 459.5 L221.8 460.2 L224.8 460.4 L227.7 460.4 L230.7 460.6 L233.7 461.0 L236.6 461.5 L239.6 461.5 L242.5 461.9 L245.5 462.2 L248.5 462.2 L251.4 461.7 L254.4 461.2 L257.4 460.3 L260.3 459.2 L263.3 457.8 L266.3 456.5 L269.2 455.5 L272.2 454.2 L275.2 453.1 L278.1 452.2 L281.1 451.5 L284.1 450.2 L287.0 448.8 L290.0 448.1 L293.0 448.1 L295.9 447.8 L298.9 447.8 L301.9 448.1 L304.8 448.3 L307.8 448.6 L310.8 449.4 L313.7 450.4 L316.7 450.7 L319.7 450.6 L322.6 450.2 L325.6 450.0 L328.6 449.7 L331.5 449.2 L334.5 448.3 L337.5 447.6 L340.4 447.4 L343.4 447.2 L346.4 447.6 L349.3 447.8 L352.3 447.6 L355.3 446.8 L358.2 446.7 L361.2 446.5 L364.2 446.3 L367.1 446.1 L370.1 446.4 L373.1 446.4 L376.0 446.5 L379.0 446.4 L381.9 446.1 L384.9 445.4 L387.9 445.4 L390.8 445.9 L393.8 446.5 L396.8 447.5 L399.7 448.4 L402.7 449.0 L405.7 449.9 L408.6 451.0 L411.6 452.0 L414.6 453.0 L417.5 454.6 L420.5 457.6 L423.5 460.4 L426.4 463.4 L429.4 464.2 L432.4 464.6 L435.3 464.9 L438.3 464.9 L441.3 464.3 L444.2 464.4 L447.2 464.1 L450.2 463.8 L453.1 463.1 L456.1 462.9 L459.1 462.0 L462.0 459.6 L465.0 457.2 L468.0 454.6 L470.9 453.7 L473.9 452.9 L476.9 452.2 L479.8 451.5 L482.8 450.9 L485.8 450.3 L488.7 450.1 L491.7 449.7 L494.7 449.4 L497.6 448.9 L500.6 448.1 L503.6 447.7 L506.5 447.5 L509.5 447.4 L512.5 446.6 L515.4 446.4 L518.4 446.2 L521.4 446.7 L524.3 447.1 L527.3 447.6 L530.3 447.7 L533.2 448.1 L536.2 448.6 L539.1 449.2 L542.1 449.9 L545.1 450.6 L548.0 451.0 L551.0 451.4 L554.0 452.0 L556.9 452.0 L559.9 451.8 L562.9 451.8 L565.8 452.0 L568.8 452.7 L571.8 452.9 L574.7 453.0 L577.7 452.7 L580.7 452.4 L583.6 452.6 L586.6 452.5 L589.6 452.2 L592.5 451.8 L595.5 451.5 L598.5 451.3 L601.4 450.8 L604.4 450.0 L607.4 449.4 L610.3 448.8 L613.3 448.5 L616.3 448.5 L619.2 448.5 L622.2 448.1 L625.2 447.1 L628.1 446.2 L631.1 445.9 L634.1 446.2 L637.0 446.5 L640.0 447.0 L643.0 447.5 L645.9 448.2 L648.9 448.8 L651.9 448.3 L654.8 447.7 L657.8 446.9 L660.8 446.9 L663.7 447.0 L666.7 448.0 L669.7 449.1 L672.6 449.7 L675.6 450.0 L678.6 450.2 L681.5 450.1 L684.5 449.8 L687.4 449.4 L690.4 448.8 L693.4 448.7 L696.3 448.5 L699.3 448.9 L702.3 448.6 L705.2 448.9 L708.2 448.5 L711.2 448.5 L714.1 448.6 L717.1 448.0 L720.1 447.6 L723.0 447.1 L726.0 447.3 L729.0 447.5 L731.9 447.5 L734.9 447.4 L737.9 447.8 L740.8 447.3 L743.8 447.4 L746.8 446.6 L749.7 445.4 L752.7 443.9 L755.7 442.1 L758.6 440.6 L761.6 439.3 L764.6 438.3 L767.5 437.1 L770.5 436.3 L773.5 436.2 L776.4 436.7 L779.4 436.5 L782.4 436.7 L785.3 436.4 L788.3 437.0 L791.3 437.8 L794.2 438.4 L797.2 439.0 L800.2 439.8 L803.1 440.3 L806.1 440.8 L809.1 441.1 L812.0 441.7 L815.0 441.7 L818.0 441.4 L820.9 442.4 L823.9 443.0 L826.9 443.8 L829.8 444.0 L832.8 444.6 L835.7 445.4 L838.7 446.3 L841.7 447.6 L844.6 449.0 L847.6 450.1 L850.6 451.3 L853.5 451.4 L856.5 451.5 L859.5 451.6 L862.4 450.8 L865.4 450.5 L868.4 449.9 L871.3 449.9 L874.3 449.4 L877.3 449.2 L880.2 449.5 L883.2 449.0 L886.2 448.6 L889.1 448.4 L892.1 448.0 L895.1 448.4 L898.0 449.0 L901.0 449.8 L904.0 450.5 L906.9 451.4 L909.9 452.3 L912.9 452.4 L915.8 452.8 L918.8 452.5 L921.8 451.9 L924.7 452.0 L927.7 451.8 L930.7 451.5 L933.6 450.9 L936.6 450.0 L939.6 449.6 L942.5 448.9 L945.5 448.1" fill="none" stroke="#F2EF5E" stroke-width="1.2"/><path d="M11.2 437.5 L14.2 437.5 L17.1 438.5 L20.1 444.5 L23.1 438.4 L26.0 435.7 L29.0 434.4 L32.0 441.7 L34.9 441.1 L37.9 443.4 L40.9 448.4 L43.8 450.5 L46.8 449.4 L49.8 449.4 L52.7 444.7 L55.7 442.1 L58.7 443.7 L61.6 449.4 L64.6 455.0 L67.6 448.8 L70.5 447.0 L73.5 452.2 L76.5 449.9 L79.4 454.5 L82.4 452.4 L85.4 454.4 L88.3 457.5 L91.3 458.7 L94.2 457.2 L97.2 453.6 L100.2 455.2 L103.1 455.0 L106.1 451.9 L109.1 454.7 L112.0 444.0 L115.0 454.1 L118.0 454.2 L120.9 457.5 L123.9 460.4 L126.9 460.9 L129.8 456.6 L132.8 454.9 L135.8 455.1 L138.7 457.6 L141.7 456.8 L144.7 458.0 L147.6 456.3 L150.6 456.0 L153.6 453.7 L156.5 455.1 L159.5 452.7 L162.5 456.2 L165.4 451.0 L168.4 460.8 L171.4 460.2 L174.3 460.8 L177.3 448.9 L180.3 457.8 L183.2 460.1 L186.2 455.2 L189.2 456.2 L192.1 452.6 L195.1 453.7 L198.1 461.7 L201.0 461.0 L204.0 460.2 L207.0 461.1 L209.9 463.3 L212.9 462.1 L215.9 462.9 L218.8 465.6 L221.8 467.5 L224.8 462.2 L227.7 455.2 L230.7 458.7 L233.7 458.4 L236.6 460.6 L239.6 462.1 L242.5 467.3 L245.5 463.6 L248.5 461.9 L251.4 456.2 L254.4 454.2 L257.4 451.3 L260.3 449.6 L263.3 448.5 L266.3 442.8 L269.2 441.6 L272.2 440.0 L275.2 443.8 L278.1 448.5 L281.1 451.2 L284.1 449.1 L287.0 444.4 L290.0 452.5 L293.0 455.5 L295.9 450.0 L298.9 451.3 L301.9 454.7 L304.8 450.7 L307.8 447.6 L310.8 452.0 L313.7 454.1 L316.7 448.4 L319.7 447.2 L322.6 445.9 L325.6 445.1 L328.6 440.7 L331.5 445.1 L334.5 443.4 L337.5 440.8 L340.4 447.7 L343.4 452.7 L346.4 455.7 L349.3 450.4 L352.3 449.1 L355.3 442.8 L358.2 447.0 L361.2 445.0 L364.2 443.4 L367.1 442.3 L370.1 444.3 L373.1 445.6 L376.0 443.8 L379.0 439.6 L381.9 443.9 L384.9 443.1 L387.9 454.8 L390.8 457.4 L393.8 457.4 L396.8 457.6 L399.7 459.4 L402.7 453.2 L405.7 456.2 L408.6 457.2 L411.6 458.9 L414.6 459.2 L417.5 466.0 L420.5 482.2 L423.5 483.7 L426.4 484.3 L429.4 466.0 L432.4 463.1 L435.3 462.1 L438.3 457.1 L441.3 451.6 L444.2 453.7 L447.2 452.3 L450.2 453.6 L453.1 449.3 L456.1 455.7 L459.1 453.0 L462.0 449.2 L465.0 450.2 L468.0 448.0 L470.9 452.8 L473.9 452.5 L476.9 451.9 L479.8 446.6 L482.8 444.5 L485.8 444.4 L488.7 449.5 L491.7 447.7 L494.7 445.8 L497.6 448.9 L500.6 440.9 L503.6 443.5 L506.5 447.5 L509.5 446.5 L512.5 442.4 L515.4 448.7 L518.4 450.3 L521.4 453.5 L524.3 450.0 L527.3 450.4 L530.3 452.1 L533.2 453.4 L536.2 452.4 L539.1 457.2 L542.1 450.7 L545.1 453.8 L548.0 452.8 L551.0 451.2 L554.0 451.4 L556.9 448.1 L559.9 448.8 L562.9 452.4 L565.8 453.3 L568.8 459.9 L571.8 455.4 L574.7 454.7 L577.7 448.4 L580.7 452.3 L583.6 453.9 L586.6 452.7 L589.6 448.6 L592.5 445.7 L595.5 446.5 L598.5 445.3 L601.4 442.5 L604.4 440.9 L607.4 445.4 L610.3 451.1 L613.3 451.1 L616.3 454.2 L619.2 448.8 L622.2 446.0 L625.2 440.9 L628.1 439.9 L631.1 444.8 L634.1 449.6 L637.0 450.3 L640.0 452.5 L643.0 450.0 L645.9 450.8 L648.9 453.1 L651.9 444.4 L654.8 443.0 L657.8 442.8 L660.8 448.5 L663.7 446.7 L666.7 456.2 L669.7 454.0 L672.6 453.4 L675.6 454.7 L678.6 452.6 L681.5 451.3 L684.5 446.1 L687.4 444.5 L690.4 445.2 L693.4 442.7 L696.3 440.8 L699.3 447.9 L702.3 444.8 L705.2 450.1 L708.2 451.1 L711.2 454.3 L714.1 454.0 L717.1 447.3 L720.1 445.8 L723.0 444.9 L726.0 448.4 L729.0 447.1 L731.9 445.4 L734.9 442.1 L737.9 446.5 L740.8 441.0 L743.8 445.8 L746.8 438.3 L749.7 434.3 L752.7 433.2 L755.7 428.9 L758.6 426.4 L761.6 428.4 L764.6 431.2 L767.5 431.1 L770.5 436.0 L773.5 443.6 L776.4 449.4 L779.4 444.3 L782.4 442.5 L785.3 441.5 L788.3 446.8 L791.3 445.6 L794.2 442.4 L797.2 437.3 L800.2 436.4 L803.1 436.4 L806.1 437.9 L809.1 435.4 L812.0 444.5 L815.0 443.0 L818.0 445.1 L820.9 459.0 L823.9 450.2 L826.9 453.6 L829.8 449.9 L832.8 453.4 L835.7 453.9 L838.7 449.9 L841.7 454.8 L844.6 456.0 L847.6 452.6 L850.6 452.4 L853.5 445.6 L856.5 444.6 L859.5 446.5 L862.4 447.6 L865.4 446.2 L868.4 444.5 L871.3 450.0 L874.3 446.3 L877.3 451.4 L880.2 454.1 L883.2 448.5 L886.2 450.6 L889.1 448.6 L892.1 448.1 L895.1 450.4 L898.0 453.7 L901.0 456.6 L904.0 457.8 L906.9 459.6 L909.9 456.0 L912.9 452.4 L915.8 451.1 L918.8 447.4 L921.8 446.2 L924.7 449.4 L927.7 447.4 L930.7 444.9 L933.6 439.7 L936.6 438.4 L939.6 447.2 L942.5 446.9 L945.5 447.2" fill="none" stroke="#A66BD6" stroke-width="1.1"/><text x="995.8" y="427.9" text-anchor="end" font-size="10.5" fill="#3A3A3A" stroke="#3A3A3A" stroke-width="0.25">80.00</text><rect x="963" y="440.6" width="37" height="14.2" fill="#AB5BCD"/><text x="997" y="451.4" text-anchor="end" font-size="10.5" fill="#fff">53.70</text><rect x="963" y="454.8" width="37" height="13.8" fill="#E5F215"/><text x="997" y="465.4" text-anchor="end" font-size="10.5" fill="#131722">52.92</text><text x="31.6" y="507" text-anchor="middle" font-size="10.5" fill="#333333">Oct</text><text x="100" y="507" text-anchor="middle" font-size="10.5" fill="#333333">Nov</text><text x="162" y="507" text-anchor="middle" font-size="10.5" fill="#333333">Dec</text><text x="224.5" y="507" text-anchor="middle" font-size="10.5" fill="#333333" font-weight="bold">2025</text><text x="289.9" y="507" text-anchor="middle" font-size="10.5" fill="#333333">Feb</text><text x="349.3" y="507" text-anchor="middle" font-size="10.5" fill="#333333">Mar</text><text x="411.9" y="507" text-anchor="middle" font-size="10.5" fill="#333333">Apr</text><text x="476.6" y="507" text-anchor="middle" font-size="10.5" fill="#333333">May</text><text x="542.5" y="507" text-anchor="middle" font-size="10.5" fill="#333333">Jun</text><text x="604.8" y="507" text-anchor="middle" font-size="10.5" fill="#333333">Jul</text><text x="673" y="507" text-anchor="middle" font-size="10.5" fill="#333333">Aug</text><text x="734.9" y="507" text-anchor="middle" font-size="10.5" fill="#333333">Sep</text><text x="800.2" y="507" text-anchor="middle" font-size="10.5" fill="#333333">Oct</text><text x="868.9" y="507" text-anchor="middle" font-size="10.5" fill="#333333">Nov</text><text x="928" y="507" text-anchor="middle" font-size="10.5" fill="#333333">Dec</text><text x="652.5" y="335.8" font-size="18.5" font-weight="bold" letter-spacing="0.75" fill="#131722">AUD/CAD Daily Chart</text></svg>
<svg width="140" height="24" style="position:absolute;left:10px;top:531px" viewBox="0 0 140 24">
<path d="M1 3h11v13h-5v-8h-6z" fill="#131722"/>
<circle cx="15" cy="5.5" r="2.5" fill="#131722"/>
<path d="M19 3h7l-6 13h-7z" fill="#131722"/>
<text x="32.5" y="16" font-size="17.7" font-weight="bold" fill="#131722">TradingView</text>
</svg>
</body></html>
